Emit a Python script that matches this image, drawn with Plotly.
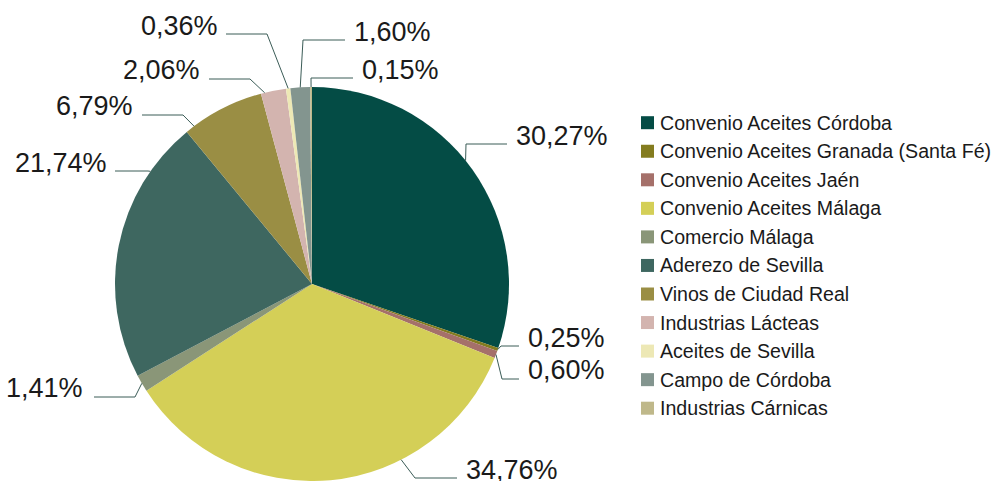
import math
import plotly.graph_objects as go

# ---- data ----
categories = [
    "Convenio Aceites Córdoba",
    "Convenio Aceites Granada (Santa Fé)",
    "Convenio Aceites Jaén",
    "Convenio Aceites Málaga",
    "Comercio Málaga",
    "Aderezo de Sevilla",
    "Vinos de Ciudad Real",
    "Industrias Lácteas",
    "Aceites de Sevilla",
    "Campo de Córdoba",
    "Industrias Cárnicas",
]
values = [30.27, 0.25, 0.60, 34.76, 1.41, 21.74, 6.79, 2.06, 0.36, 1.60, 0.15]
colors = [
    "#044c45", "#847c1f", "#a5706a", "#d4cf57", "#8a9678", "#3e6760",
    "#9a8e44", "#d3b4af", "#ede8b5", "#83958f", "#bfb88a",
]

# ---- layout / style ----
W, H = 1007, 481
CX, CY, R = 312, 284, 197
FONT = "Liberation Sans"
TXT = "#1a1a1a"
LINE = "#3b5c57"

# leader-line anchor position within each slice (fraction of slice)
anchor_frac = [0.47, 0.5, 0.5, 0.328, 0.5, 0.8, 0.11, 0.15, 0.5, 0.5, 0.5]
# label placement: (side, text_x, text_center_y, elbow_x, elbow_y, end_x)
label_pos = [
    ("L", 516, 136, 466, 144, 507),
    ("L", 528, 338, 501, 346, 519),
    ("L", 528, 370, 502, 379, 519),
    ("L", 466, 470, 415, 478, 457),
    ("R", 83, 388, 135, 397, 94),
    ("R", 107, 163, 148, 171, 115),
    ("R", 133, 106, 183, 115, 142),
    ("R", 200, 70, 250, 79, 209),
    ("R", 218, 26, 267, 34, 226),
    ("L", 354, 32, 303, 40, 345),
    ("L", 362, 70, 311, 78, 353),
]


def px(x):
    return x / W


def py(y):
    return 1 - y / H


fig = go.Figure(
    go.Pie(
        labels=categories,
        values=values,
        marker=dict(colors=colors, line=dict(width=0)),
        sort=False,
        direction="clockwise",
        rotation=0,
        textinfo="none",
        hoverinfo="label+percent",
        showlegend=False,
        domain=dict(x=[px(CX - R), px(CX + R)], y=[py(CY + R), py(CY - R)]),
    )
)

total = sum(values)
annotations = []
shapes = []
cum = 0.0
for i, v in enumerate(values):
    frac = (cum + v * anchor_frac[i]) / total
    cum += v
    ang = 2 * math.pi * frac
    ax = CX + R * math.sin(ang)
    ay = CY - R * math.cos(ang)
    side, tx, ty, ex, ey, endx = label_pos[i]
    shapes.append(dict(
        type="path", xref="paper", yref="paper",
        path=f"M {px(ax)},{py(ay)} L {px(ex)},{py(ey)} L {px(endx)},{py(ey)}",
        line=dict(color=LINE, width=1),
    ))
    label = f"{v:.2f}".replace(".", ",") + "%"
    annotations.append(dict(
        x=px(tx - 2 if side == "L" else tx + 2), y=py(ty), xref="paper", yref="paper",
        xanchor="left" if side == "L" else "right", yanchor="middle",
        text=label, showarrow=False,
        font=dict(family=FONT, size=27, color=TXT),
    ))

# legend (manual)
LEG_X, LEG_Y0, LEG_DY, SQ = 641, 122.7, 28.55, 13
for i, (c, col) in enumerate(zip(categories, colors)):
    yc = LEG_Y0 + i * LEG_DY
    shapes.append(dict(
        type="rect", xref="paper", yref="paper",
        x0=px(LEG_X), x1=px(LEG_X + SQ), y0=py(yc + SQ / 2), y1=py(yc - SQ / 2),
        fillcolor=col, line=dict(width=0),
    ))
    annotations.append(dict(
        x=px(LEG_X + SQ + 4), y=py(yc), xref="paper", yref="paper",
        xanchor="left", yanchor="middle", text=c, showarrow=False,
        font=dict(family=FONT, size=19.6, color=TXT),
    ))

fig.update_layout(
    width=W, height=H,
    margin=dict(l=0, r=0, t=0, b=0),
    paper_bgcolor="white", plot_bgcolor="white",
    annotations=annotations, shapes=shapes,
)

fig.write_html(
    "out.html",
    config={"displayModeBar": False},
    post_script="document.body.style.margin='0';document.body.style.overflow='hidden';",
)
